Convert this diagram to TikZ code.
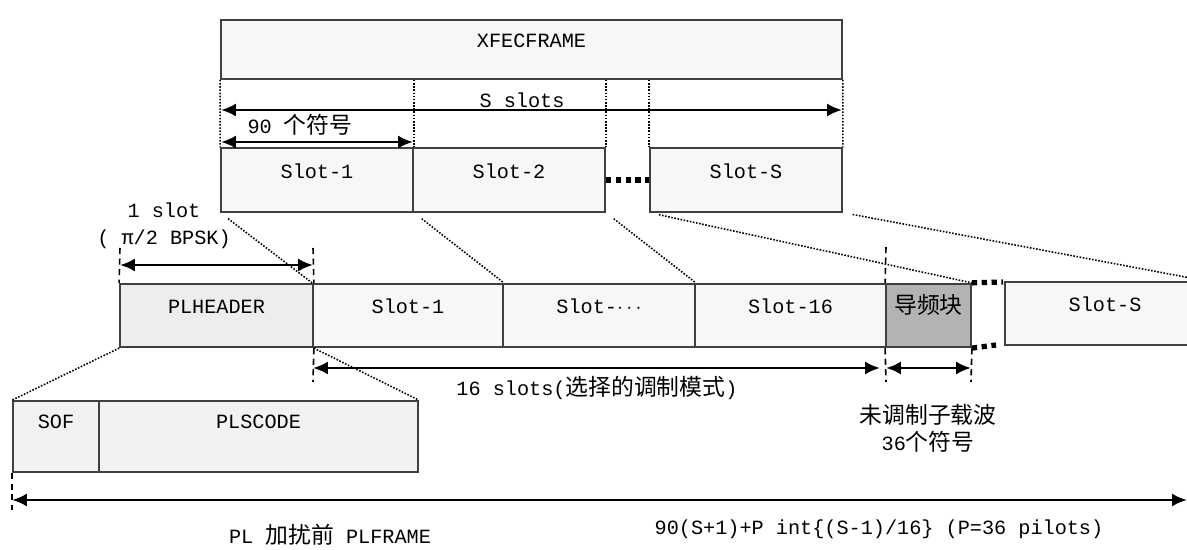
\documentclass[tikz,border=0pt]{standalone}
\usepackage{fontspec}
\setmainfont{Liberation Mono}
\newfontfamily\cjk[Scale=1.13]{Noto Sans CJK SC}
\usetikzlibrary{arrows.meta}
\definecolor{slotfill}{HTML}{F7F7F7}
\definecolor{hdrfill}{HTML}{EDEDED}
\definecolor{pilotfill}{HTML}{B3B3B3}
\definecolor{codefill}{HTML}{F2F2F2}
\definecolor{edge}{HTML}{404040}
\tikzset{slotbox/.style={draw=edge,line width=1pt,fill=slotfill,minimum height=1.27cm,inner sep=0pt,text height=7pt,text depth=9pt,font=\fontsize{11.5}{13}\selectfont},dimarrow/.style={{Latex[length=8.5pt,width=7.5pt]}-{Latex[length=8.5pt,width=7.5pt]},line width=1.6pt},guide/.style={line width=0.9pt,dash pattern=on 0.9pt off 0.9pt},tick/.style={line width=0.9pt,dash pattern=on 3.5pt off 2.5pt},gapdots/.style={line width=3pt,dash pattern=on 3pt off 2.6pt},lab/.style={font=\fontsize{11.5}{15.5}\selectfont,align=center,inner sep=1pt}}
\begin{document}
\begin{tikzpicture}[x=0.02cm,y=-0.02cm]
\useasboundingbox (0,0) rectangle (1187,550);
\clip (0,0) rectangle (1187,550);
\node[slotbox,minimum width=12.42cm,minimum height=1.18cm] (xfec) at (531.5,49.5) {XFECFRAME};
\node[slotbox,minimum width=3.84cm] (slotA) at (317,180) {Slot-1};
\node[slotbox,minimum width=3.84cm] (slotB) at (509,180) {Slot-2};
\node[slotbox,minimum width=3.84cm] (slotS) at (746,180) {Slot-S};
\node[slotbox,fill=hdrfill,minimum width=3.86cm] (hdr) at (216.5,315.5) {PLHEADER};
\node[slotbox,minimum width=3.8cm] (slotone) at (408,315.5) {Slot-1};
\node[slotbox,minimum width=3.84cm] (slotmid) at (599,315.5) {Slot-$\cdots$};
\node[slotbox,minimum width=3.82cm] (slotsixteen) at (790.5,315.5) {Slot-16};
\node[slotbox,fill=pilotfill,minimum width=1.7cm] (pilot) at (928.5,315.5) {\cjk 导频块};
\node[slotbox,minimum width=4cm] (slotlast) at (1105,313.5) {Slot-S};
\node[slotbox,fill=codefill,minimum width=1.72cm,minimum height=1.42cm,text depth=16pt] (sof) at (56,436.5) {SOF};
\node[slotbox,fill=codefill,minimum width=6.38cm,minimum height=1.42cm,text depth=16pt] (plscode) at (258.5,436.5) {PLSCODE};
\coordinate (sL) at (221,110); \coordinate (sR) at (842,110);
\coordinate (nL) at (221,142); \coordinate (nR) at (413,142);
\coordinate (hL) at (120,248); \coordinate (hR) at (313,248);
\coordinate (hLa) at (120,265); \coordinate (hRa) at (313,265);
\coordinate (pT) at (886,247); \coordinate (mR) at (313,382); \coordinate (pB) at (886,382); \coordinate (qB) at (971,382);
\coordinate (mLa) at (313,368); \coordinate (mRa) at (880,368); \coordinate (pLa) at (886,368); \coordinate (pRa) at (971,368);
\coordinate (fT) at (12,473); \coordinate (fB) at (12,510); \coordinate (fL) at (12,500); \coordinate (fR) at (1187,500);
\coordinate (dotT) at (1003,282); \coordinate (dotB) at (996,345);
\draw[guide](xfec.south west)--(slotA.north west);\draw[guide](slotA.north east|-xfec.south)--(slotA.north east);
\draw[guide](slotB.north east|-xfec.south)--(slotB.north east);\draw[guide](slotS.north west|-xfec.south)--(slotS.north west);
\draw[guide](xfec.south east)--(slotS.north east);
\draw[dimarrow](sL)--(sR);\draw[dimarrow](nL)--(nR);
\node[lab] (slabel) at (522,100) {S slots};
\node[lab] (nlabel) at (300,125) {90 {\cjk 个符号}};
\draw[gapdots](slotB.east)--(slotS.west);
\draw[guide,shorten <=0.2cm](slotA.south west)--(slotone.north west);\draw[guide,shorten <=0.2cm](slotA.south east)--(slotone.north east);
\draw[guide,shorten <=0.2cm](slotB.south east)--(slotmid.north east);\draw[guide,shorten <=0.2cm](slotS.south west)--(pilot.north east);
\draw[guide,shorten <=0.2cm](slotS.south east)--(slotlast.north east);
\node[lab] (hlabel) at (164,226) {1 slot\\( π/2 BPSK)};
\draw[tick](hL)--(hdr.north west);\draw[tick](hR)--(hdr.north east);\draw[dimarrow](hLa)--(hRa);
\draw[gapdots](pilot.north east)--(dotT);\draw[gapdots](pilot.south east)--(dotB);
\draw[tick](pT)--(pilot.north west);\draw[tick](hdr.south east)--(mR);\draw[tick](pilot.south west)--(pB);\draw[tick](pilot.south east)--(qB);
\draw[dimarrow](mLa)--(mRa);\draw[dimarrow](pLa)--(pRa);
\node[lab] (mlabel) at (597,388) {16 slots({\cjk 选择的调制模式})};
\node[lab] (plabel) at (928,428) {{\cjk 未调制子载波}\\36{\cjk 个符号}};
\draw[guide](hdr.south west)--(sof.north west);\draw[guide](hdr.south east)--(plscode.north east);
\draw[tick](fT)--(fB);\draw[dimarrow](fL)--(fR);
\node[lab] (flabel) at (879,529) {90(S+1)+P int\{(S-1)/16\} (P=36 pilots)};
\node[lab] (tlabel) at (330,535) {PL {\cjk 加扰前} PLFRAME};
\end{tikzpicture}
\end{document}
